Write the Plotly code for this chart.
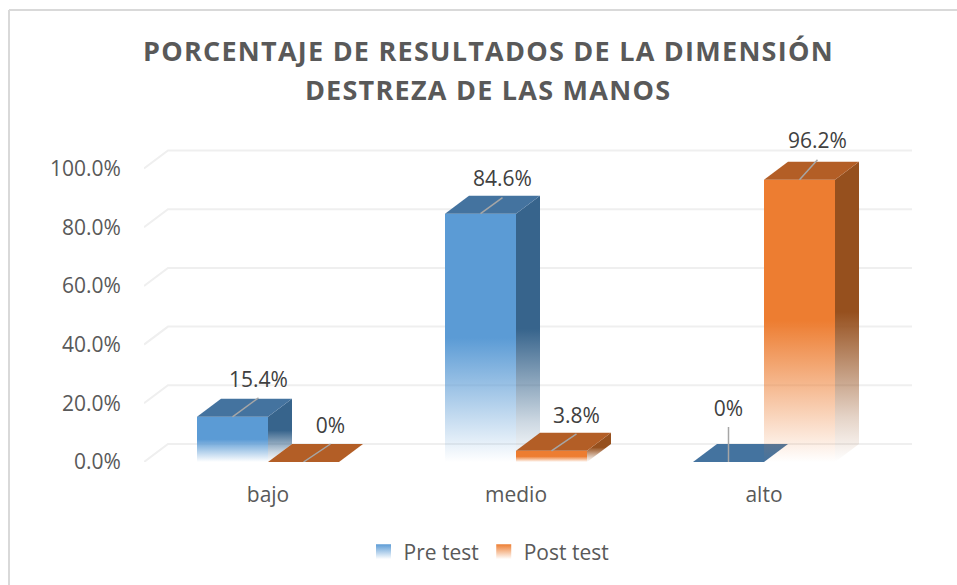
import plotly.graph_objects as go

# ---- data ----
categories = ["bajo", "medio", "alto"]
series_names = ["Pre test", "Post test"]
pre_test = [15.4, 84.6, 0.0]
post_test = [0.0, 3.8, 96.2]
pre_labels = ["15.4%", "84.6%", "0%"]
post_labels = ["0%", "3.8%", "96.2%"]
y_ticks = [0, 20, 40, 60, 80, 100]
y_tick_labels = ["0.0%", "20.0%", "40.0%", "60.0%", "80.0%", "100.0%"]
title_lines = ["PORCENTAJE DE RESULTADOS DE LA DIMENSIÓN", "DESTREZA DE LAS MANOS"]

# ---- layout constants ----
W, H = 957, 585
L, R, T, B = 144, 912, 100, 462     # plot box in pixels
PX_X = 248.0                         # pixels per category
PX_Y = 2.935                         # pixels per percent
DX = 24 / PX_X                       # depth offset in data units
DY = 18 / PX_Y
BAR = 71 / PX_X
X0 = -0.5
X1 = X0 + (R - L) / PX_X
Y1 = (B - T) / PX_Y

COL = {
    "Pre test":  dict(front="91,155,213", top="#44739f", side="55,100,140", solid="#5b9bd5"),
    "Post test": dict(front="237,125,49", top="#b35e26", side="150,80,30", solid="#ed7d31"),
}
# leader vectors in pixels (dx, dy) from the front-top edge centre, per series, per category
LEADER = {
    "Pre test":  [(26, -19), (22, -16), (0, -35)],
    "Post test": [(27, -18), (25, -17), (18, -20)],
}

fig = go.Figure()


def fade(rgb, stops):
    return dict(
        type="vertical",
        colorscale=[[p, f"rgba({rgb},{a})"] for p, a in stops],
    )


FRONT_STOPS = [(0, 0), (0.5, 1), (1, 1)]
SIDE_STOPS = [(0, 0), (0.15, 0.25), (0.5, 1), (1, 1)]

# legend entries
for name in series_names:
    fig.add_trace(go.Scatter(
        x=[None], y=[None], mode="markers", name=name,
        marker=dict(symbol="square", size=15, color=COL[name]["solid"],
                    gradient=dict(type="vertical", color="white")),
        hoverinfo="skip", showlegend=True))

# gridlines: back wall plus side-wall diagonal
for t in y_ticks:
    fig.add_trace(go.Scatter(
        x=[X0, X0 + DX, X1], y=[t, t + DY, t + DY], mode="lines",
        line=dict(color="#efefef", width=2), hoverinfo="skip", showlegend=False))

leaders = []
labels = []
for c in range(len(categories)):
    for s, (name, values, texts) in enumerate(
            [(series_names[0], pre_test, pre_labels), (series_names[1], post_test, post_labels)]):
        v = values[c]
        a = c - BAR + s * BAR
        b = a + BAR
        col = COL[name]
        if v > 0:
            # side face
            fig.add_trace(go.Scatter(
                x=[b, b + DX, b + DX, b, b], y=[0, DY, v + DY, v, 0],
                mode="lines", fill="toself", line=dict(width=0),
                fillgradient=fade(col["side"], SIDE_STOPS),
                hoverinfo="skip", showlegend=False))
            # front face
            fig.add_trace(go.Scatter(
                x=[a, b, b, a, a], y=[0, 0, v, v, 0],
                mode="lines", fill="toself", line=dict(width=0),
                fillgradient=fade(col["front"], FRONT_STOPS),
                hoverinfo="skip", showlegend=False))
        # top face
        fig.add_trace(go.Scatter(
            x=[a, b, b + DX, a + DX, a], y=[v, v, v + DY, v + DY, v],
            mode="lines", fill="toself", fillcolor=col["top"], line=dict(width=0),
            hoverinfo="skip", showlegend=False))
        xc = (a + b) / 2
        ldx, ldy = LEADER[name][c]
        lx, ly = xc + ldx / PX_X, v - ldy / PX_Y
        leaders.append(((xc, v), (lx, ly)))
        labels.append((lx, ly + 16.5 / PX_Y, texts[c]))

for (p, q) in leaders:
    fig.add_trace(go.Scatter(
        x=[p[0], q[0]], y=[p[1], q[1]], mode="lines",
        line=dict(color="#a6a6a6", width=1.5), hoverinfo="skip", showlegend=False))

fig.add_trace(go.Scatter(
    x=[l[0] for l in labels], y=[l[1] for l in labels], text=[l[2] for l in labels],
    mode="text", textposition="middle center",
    textfont=dict(family="Open Sans", size=21, color="#404040"),
    cliponaxis=False, hoverinfo="skip", showlegend=False))

fig.update_layout(
    width=W, height=H, autosize=False,
    margin=dict(l=L, r=W - R, t=T, b=H - B, pad=0),
    paper_bgcolor="white", plot_bgcolor="white",
    font=dict(family="Open Sans", color="#595959"),
    xaxis=dict(range=[X0, X1], tickmode="array", tickvals=list(range(len(categories))),
               ticktext=categories, showgrid=False, zeroline=False, showline=False,
               ticks="outside", ticklen=14, tickcolor="rgba(0,0,0,0)",
               tickfont=dict(size=21, color="#595959")),
    yaxis=dict(range=[0, Y1], tickmode="array", tickvals=y_ticks, ticktext=y_tick_labels,
               showgrid=False, zeroline=False, showline=False,
               ticks="outside", ticklen=18, tickcolor="rgba(0,0,0,0)",
               tickfont=dict(size=21, color="#595959")),
    legend=dict(orientation="h", x=(489 - L) / (R - L), xref="paper", xanchor="center",
                y=-(552 - B) / (B - T), yanchor="middle",
                font=dict(size=21, color="#595959"), itemwidth=30, traceorder="normal"),
    shapes=[
        dict(type="line", xref="paper", yref="paper",
             x0=(9 - L) / (R - L), x1=(9 - L) / (R - L),
             y0=(B - 585) / (B - T), y1=(B - 10) / (B - T),
             line=dict(color="#d9d9d9", width=2), layer="below"),
        dict(type="line", xref="paper", yref="paper",
             x0=(9 - L) / (R - L), x1=(957 - L) / (R - L),
             y0=(B - 10) / (B - T), y1=(B - 10) / (B - T),
             line=dict(color="#d9d9d9", width=2), layer="below"),
    ],
    annotations=[dict(xref="paper", yref="paper",
                      x=(488 - L) / (R - L), y=(B - yy) / (B - T),
                      text=f"<b>{line}</b>", showarrow=False, xanchor="center", yanchor="middle",
                      font=dict(family="Open Sans", size=27, color="#595959"))
                 for line, yy in zip(title_lines, (51, 89))],
)
fig.write_html(
    "out.html",
    config={"displayModeBar": False},
    post_script=(
        "document.body.style.margin='0';document.body.style.overflow='hidden';"
        "document.querySelectorAll('.annotation-text').forEach(function(e){e.style.letterSpacing='1.25px';});"
    ),
)
